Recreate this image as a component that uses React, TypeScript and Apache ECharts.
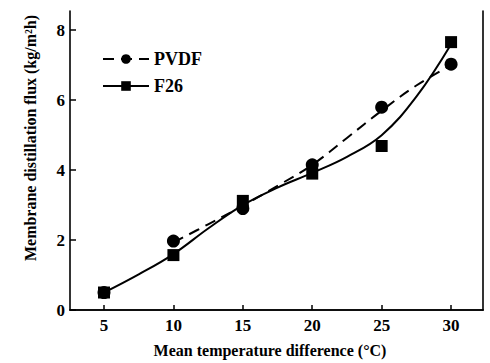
import React, { useEffect, useRef } from "react";
import * as echarts from "echarts";

// Measured points
const xMeasured = [5, 10, 15, 20, 25, 30];
const pvdfMeasured = [0.5, 1.97, 2.9, 4.15, 5.8, 7.03];
const f26Measured = [0.5, 1.57, 3.12, 3.9, 4.69, 7.66];

// Fitted curves
const xCurvePvdf = [10, 12.5, 15, 17.5, 20, 22.5, 25, 27.5, 30];
const pvdfCurve = [1.93, 2.45, 2.98, 3.55, 4.15, 4.92, 5.7, 6.42, 7.0];
const xCurveF26 = [5, 7.5, 10, 12.5, 15, 17.5, 20, 22.5, 25, 27.5, 30];
const f26Curve = [0.5, 1.02, 1.6, 2.33, 3.0, 3.5, 3.92, 4.38, 5.0, 6.1, 7.6];

const xTicks = [5, 10, 15, 20, 25, 30];
const yTicks = [0, 2, 4, 6, 8];

const xTitle = "Mean temperature difference (°C)";
const yTitle = "Membrane distillation flux (kg/m²h)";

const FONT = "Liberation Serif";

export default function App() {
  const ref = useRef<HTMLDivElement>(null);
  useEffect(() => {
    if (!ref.current) return;
    const chart = echarts.init(ref.current, null, { renderer: "svg" });
    const pair = (xs: number[], ys: number[]) => xs.map((x, i) => [x, ys[i]]);
    const xMin = 2.55;
    const xMax = 32.3;
    const yMin = 0;
    const yMax = 8.55;
    const axisLineStyle = { color: "#000", width: 1.6 };
    const labelFont = { fontFamily: FONT, fontSize: 17, fontWeight: "bold" as const, color: "#000" };
    chart.setOption({
      animation: false,
      backgroundColor: "#fff",
      grid: {
        left: 70,
        right: 7,
        top: 11,
        bottom: 53,
        containLabel: false,
        outerBoundsMode: "none",
      },
      legend: {
        data: ["PVDF", "F26"],
        orient: "vertical",
        left: 97,
        top: 45,
        itemWidth: 46,
        itemHeight: 12,
        itemGap: 9,
        textStyle: { fontFamily: FONT, fontSize: 18, fontWeight: "bold", color: "#000" },
      },
      xAxis: [
        {
          type: "value",
          min: xMin,
          max: xMax,
          splitLine: { show: false },
          axisLine: { lineStyle: axisLineStyle },
          axisTick: { inside: true, length: 5, lineStyle: { color: "#000", width: 1.5 }, customValues: xTicks },
          axisLabel: { customValues: xTicks, margin: 7, ...labelFont },
        },
        {
          type: "value",
          position: "top",
          min: xMin,
          max: xMax,
          splitLine: { show: false },
          axisLine: { lineStyle: axisLineStyle },
          axisTick: { show: false },
          axisLabel: { show: false },
        },
      ],
      yAxis: [
        {
          type: "value",
          min: yMin,
          max: yMax,
          splitLine: { show: false },
          axisLine: { lineStyle: axisLineStyle },
          axisTick: { inside: true, length: 6, lineStyle: { color: "#000", width: 1.5 }, customValues: yTicks },
          axisLabel: { customValues: yTicks, margin: 5, ...labelFont },
        },
        {
          type: "value",
          position: "right",
          min: yMin,
          max: yMax,
          splitLine: { show: false },
          axisLine: { lineStyle: axisLineStyle },
          axisTick: { show: false },
          axisLabel: { show: false },
        },
      ],
      series: [
        {
          name: "F26",
          type: "line",
          data: pair(xCurveF26, f26Curve),
          smooth: 0.4,
          symbol: "rect",
          showSymbol: false,
          lineStyle: { color: "#000", width: 2, type: "solid" },
          itemStyle: { color: "#000" },
          z: 3,
        },
        {
          name: "PVDF",
          type: "line",
          data: pair(xCurvePvdf, pvdfCurve),
          smooth: 0.4,
          symbol: "circle",
          showSymbol: false,
          lineStyle: { color: "#000", width: 2, type: [11, 7] },
          itemStyle: { color: "#000" },
          z: 3,
        },
        {
          name: "F26 points",
          type: "scatter",
          data: pair(xMeasured, f26Measured),
          symbol: "rect",
          symbolSize: 12,
          itemStyle: { color: "#000", opacity: 1 },
          z: 4,
        },
        {
          name: "PVDF points",
          type: "scatter",
          data: pair(xMeasured, pvdfMeasured),
          symbol: "circle",
          symbolSize: 13,
          itemStyle: { color: "#000", opacity: 1 },
          z: 4,
        },
      ],
      graphic: [
        {
          type: "text",
          x: 270,
          y: 350,
          style: {
            text: xTitle,
            align: "center",
            verticalAlign: "middle",
            fontFamily: FONT,
            fontSize: 16,
            fontWeight: "bold",
            fill: "#000",
          },
        },
        {
          type: "text",
          x: 30,
          y: 138,
          rotation: Math.PI / 2,
          style: {
            text: yTitle,
            align: "center",
            verticalAlign: "middle",
            fontFamily: FONT,
            fontSize: 16,
            fontWeight: "bold",
            fill: "#000",
          },
        },
      ],
    });
    return () => chart.dispose();
  }, []);
  return <div ref={ref} style={{ width: 490, height: 363, position: "absolute", left: 0, top: 0 }} />;
}
